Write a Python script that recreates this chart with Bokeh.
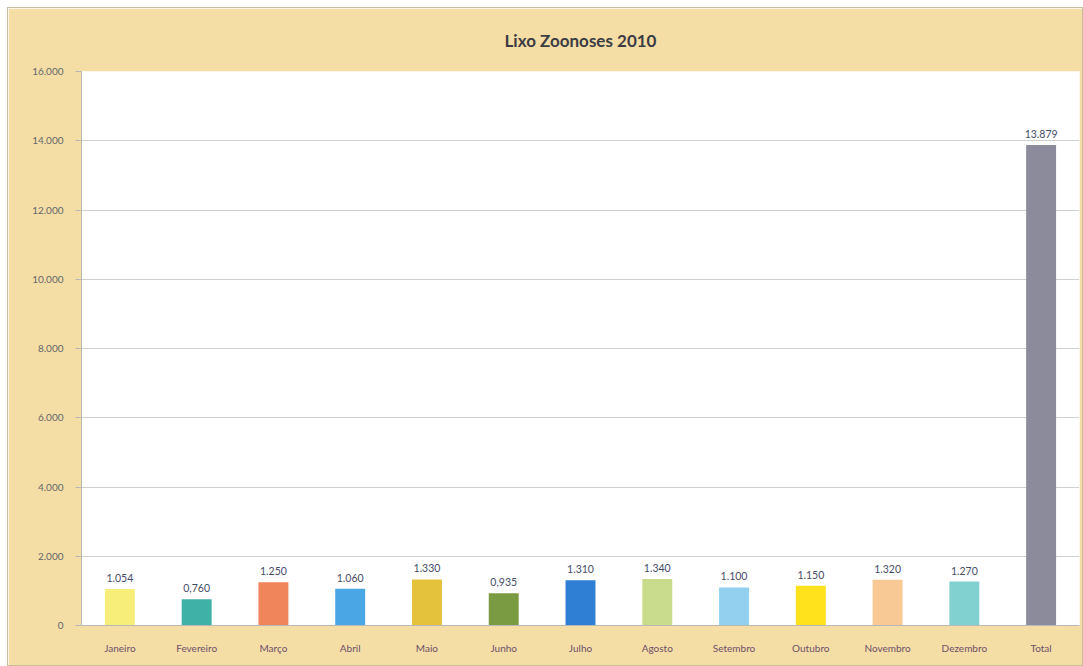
from bokeh.plotting import figure
from bokeh.models import ColumnDataSource, FixedTicker, Range1d, FactorRange
from bokeh.core.properties import value
from bokeh.embed import file_html
from bokeh.resources import INLINE

chart_title = "Lixo Zoonoses 2010"
months = ["Janeiro", "Fevereiro", "Março", "Abril", "Maio", "Junho", "Julho",
          "Agosto", "Setembro", "Outubro", "Novembro", "Dezembro", "Total"]
values = [1054, 760, 1250, 1060, 1330, 935, 1310, 1340, 1100, 1150, 1320, 1270, 13879]
value_labels = ["1.054", "0,760", "1.250", "1.060", "1.330", "0,935", "1.310",
                "1.340", "1.100", "1.150", "1.320", "1.270", "13.879"]
colors = ["#f6ee78", "#3fb1a6", "#f0855c", "#4ba6e6", "#e5c23c", "#7b9b42", "#2f7fd4",
          "#c9dc8e", "#93d0f0", "#ffe11c", "#f8c994", "#80d1cf", "#8b8b9b"]
y_ticks = [0, 2000, 4000, 6000, 8000, 10000, 12000, 14000, 16000]
y_tick_labels = ["0", "2.000", "4.000", "6.000", "8.000", "10.000", "12.000", "14.000", "16.000"]

src = ColumnDataSource(dict(x=months, top=values, lab=value_labels, color=colors))

p = figure(width=1076, height=659, x_range=FactorRange(*months, range_padding=0),
           y_range=Range1d(0, 16000), output_backend="svg", toolbar_location=None,
           title=chart_title)
p.margin = (7, 0, 0, 7)
p.min_border_left = 73
p.min_border_right = 5
p.min_border_top = 63
p.min_border_bottom = 42
p.background_fill_color = "white"
p.border_fill_color = "#f4dea6"
p.outline_line_color = None
p.styles = {"border": "1px solid #c9bd9a"}

p.title.align = "center"
p.title.vertical_align = "top"
p.title.text_font = "Lato"
p.title.text_font_size = "17px"
p.title.text_font_style = "bold"
p.title.text_color = "#3c3c44"
p.title.offset = 0
p.title.standoff = 38

p.vbar(x="x", top="top", width=0.39, fill_color="color", line_color=None, source=src)
p.text(x="x", y="top", text="lab", source=src, text_align="center",
       text_baseline="bottom", y_offset=-7, text_font=value("Lato"),
       text_font_size="10.5px", text_color="#464c66")

p.yaxis.ticker = FixedTicker(ticks=y_ticks)
p.yaxis.major_label_overrides = {t: l for t, l in zip(y_ticks, y_tick_labels)}
p.yaxis.major_label_text_font = "Lato"
p.yaxis.major_label_text_font_size = "10px"
p.yaxis.major_label_text_color = "#66666c"
p.yaxis.major_tick_out = 6
p.yaxis.major_tick_in = 0
p.yaxis.minor_tick_line_color = None
p.yaxis.major_tick_line_color = "#b8b8b8"
p.yaxis.axis_line_color = "#b8b8b8"
p.yaxis.major_label_standoff = 12

p.xaxis.major_label_text_font = "Lato"
p.xaxis.major_label_text_font_size = "10px"
p.xaxis.major_label_text_color = "#6e4e6a"
p.xaxis.major_tick_line_color = None
p.xaxis.axis_line_color = "#b8b8b8"
p.xaxis.major_label_standoff = 10

p.xgrid.grid_line_color = None
p.ygrid.grid_line_color = "#cfcfcf"

open("out.html", "w").write(file_html(p, INLINE))
